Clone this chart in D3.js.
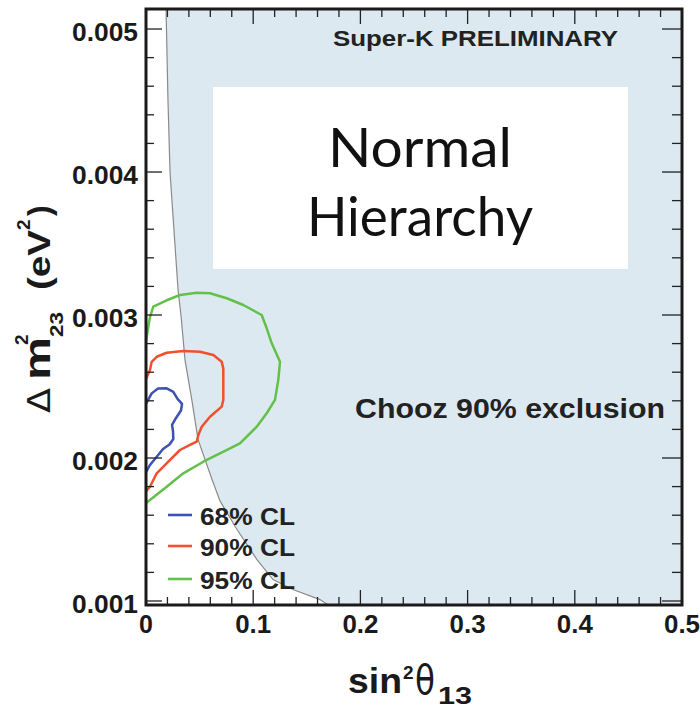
<!DOCTYPE html>
<html><head><meta charset="utf-8">
<script src="https://cdn.jsdelivr.net/npm/d3@7"></script>
<style>body{margin:0;background:#fff}</style>
</head><body>
<svg id="c" width="700" height="709"></svg>
<script>
// ---------- data ----------
const xTicks = [0, 0.1, 0.2, 0.3, 0.4, 0.5];
const xTickLabels = ["0", "0.1", "0.2", "0.3", "0.4", "0.5"];
const yTicks = [0.001, 0.002, 0.003, 0.004, 0.005];
const yTickLabels = ["0.001", "0.002", "0.003", "0.004", "0.005"];

// Chooz 90% exclusion boundary [sin^2 theta13, dm^2]
const choozBoundary = [
  [0.0187, 0.00514], [0.0205, 0.0045], [0.0224, 0.0040], [0.0299, 0.003175],
  [0.0326, 0.0030], [0.0364, 0.002685], [0.0429, 0.0024], [0.0485, 0.00213],
  [0.0616, 0.00185], [0.069, 0.0017], [0.0849, 0.0015], [0.1035, 0.00129],
  [0.1185, 0.00115], [0.137, 0.00108], [0.1623, 0.00101], [0.170, 0.000972]
];
const cl68 = [
  [0, 0.002378], [0.0053, 0.002452], [0.0112, 0.002486], [0.0193, 0.002487],
  [0.0255, 0.002462], [0.0294, 0.002413], [0.0336, 0.002378], [0.0326, 0.002332],
  [0.028, 0.00228], [0.0243, 0.002231], [0.0252, 0.002189], [0.0255, 0.002133],
  [0.0219, 0.002094], [0.0159, 0.002063], [0.01, 0.002009], [0.0037, 0.001951],
  [0, 0.001902]
];
const cl90 = [
  [0, 0.002552], [0.0037, 0.002615], [0.0053, 0.002673], [0.01, 0.002708],
  [0.0193, 0.002736], [0.0348, 0.002748], [0.0504, 0.002743], [0.0628, 0.00272],
  [0.0706, 0.002673], [0.0721, 0.002627], [0.0721, 0.002406], [0.0706, 0.002359],
  [0.0597, 0.002289], [0.052, 0.002219], [0.0488, 0.002161], [0.0473, 0.002114],
  [0.041, 0.002091], [0.0317, 0.002056], [0.0208, 0.001974], [0.01, 0.001893],
  [0.0037, 0.001799], [0, 0.001769]
];
const cl95 = [
  [0, 0.00282], [0.0037, 0.002986], [0.0068, 0.003058], [0.0193, 0.003103],
  [0.0317, 0.00314], [0.0473, 0.003156], [0.0597, 0.003152], [0.0753, 0.003117],
  [0.0908, 0.00307], [0.1079, 0.003], [0.1126, 0.002907], [0.1173, 0.002802],
  [0.125, 0.002673], [0.1234, 0.002545], [0.1203, 0.002406], [0.1126, 0.002313],
  [0.1033, 0.002219], [0.0877, 0.002103], [0.069, 0.002033], [0.0535, 0.001974],
  [0.0348, 0.001893], [0.0193, 0.001799], [0.0037, 0.001706], [0, 0.001685]
];
const legendLabels = ["68% CL", "90% CL", "95% CL"];
const seriesColors = ["#3d52b3", "#f0502e", "#63c04a"];

// ---------- layout ----------
const L = 146, R = 682, T = 9, B = 605;
const svg = d3.select("#c");
const x = d3.scaleLinear().domain([0, 0.5]).range([L, R]);
const y = d3.scaleLinear().domain([0.000972, 0.00514]).range([B, T]);
const SANS = "'Liberation Sans', Arial, Helvetica, sans-serif";

// exclusion region
svg.append("path")
  .datum(choozBoundary)
  .attr("fill", "#dde9f0")
  .attr("d", d3.area().y(d => y(d[1])).x0(d => x(d[0])).x1(x(0.5)));
svg.append("path")
  .datum(choozBoundary)
  .attr("fill", "none").attr("stroke", "#8a8a8a").attr("stroke-width", 1.2)
  .attr("d", d3.line().x(d => x(d[0])).y(d => y(d[1])));

// white text box
svg.append("rect").attr("x", 213).attr("y", 87).attr("width", 415).attr("height", 182).attr("fill", "#fff");
svg.append("text").text("Normal").attr("x", 420).attr("y", 167)
  .attr("text-anchor", "middle").attr("font-family", "Lato, 'Open Sans', sans-serif")
  .attr("font-size", 54).attr("fill", "#111").attr("textLength", 184).attr("lengthAdjust", "spacingAndGlyphs");
svg.append("text").text("Hierarchy").attr("x", 420).attr("y", 236)
  .attr("text-anchor", "middle").attr("font-family", "Lato, 'Open Sans', sans-serif")
  .attr("font-size", 54).attr("fill", "#111").attr("textLength", 226).attr("lengthAdjust", "spacingAndGlyphs");

// contours
const line = d3.line().x(d => x(d[0])).y(d => y(d[1]));
[cl68, cl90, cl95].forEach((c, i) => {
  svg.append("path").datum(c).attr("fill", "none").attr("stroke", seriesColors[i])
    .attr("stroke-width", 2.5).attr("stroke-linejoin", "round").attr("d", line);
});

// annotations
svg.append("text").text("Super-K PRELIMINARY").attr("x", 333).attr("y", 46)
  .attr("font-family", SANS).attr("font-weight", "bold").attr("font-size", 22).attr("fill", "#222")
  .attr("textLength", 285).attr("lengthAdjust", "spacingAndGlyphs");
svg.append("text").text("Chooz 90% exclusion").attr("x", 355).attr("y", 418)
  .attr("font-family", SANS).attr("font-weight", "bold").attr("font-size", 27).attr("fill", "#222")
  .attr("textLength", 310).attr("lengthAdjust", "spacingAndGlyphs");

// legend
const legY = [515, 546, 579];
legendLabels.forEach((lab, i) => {
  svg.append("line").attr("x1", 168).attr("x2", 192).attr("y1", legY[i]).attr("y2", legY[i])
    .attr("stroke", seriesColors[i]).attr("stroke-width", 2.6);
  svg.append("text").text(lab).attr("x", 200).attr("y", legY[i] + 10)
    .attr("font-family", SANS).attr("font-weight", "bold").attr("font-size", 23).attr("fill", "#222")
    .attr("textLength", 95).attr("lengthAdjust", "spacingAndGlyphs");
});

// ticks
const g = svg.append("g").attr("stroke", "#222");
const xMinor = d3.range(0, 0.5001, 0.02);
const yMinor = d3.range(0.001, 0.00515, 0.0002);
xMinor.forEach(v => {
  const major = xTicks.some(t => Math.abs(t - v) < 1e-9);
  const len = major ? 15 : 8;
  g.append("line").attr("x1", x(v)).attr("x2", x(v)).attr("y1", B).attr("y2", B - len).attr("stroke-width", 1.3);
  g.append("line").attr("x1", x(v)).attr("x2", x(v)).attr("y1", T).attr("y2", T + len).attr("stroke-width", 1.3);
});
yMinor.forEach(v => {
  const major = yTicks.some(t => Math.abs(t - v) < 1e-9);
  g.append("line").attr("x1", L).attr("x2", L + (major ? 16 : 8)).attr("y1", y(v)).attr("y2", y(v)).attr("stroke-width", 1.3);
  g.append("line").attr("x1", R).attr("x2", R - (major ? 20 : 10)).attr("y1", y(v)).attr("y2", y(v)).attr("stroke-width", 1.3);
});

// frame
svg.append("rect").attr("x", L).attr("y", T).attr("width", R - L).attr("height", B - T)
  .attr("fill", "none").attr("stroke", "#1a1a1a").attr("stroke-width", 3);

// tick labels
xTicks.forEach((v, i) => {
  const t = svg.append("text").text(xTickLabels[i]).attr("x", x(v)).attr("y", 633)
    .attr("text-anchor", "middle").attr("font-family", SANS).attr("font-weight", "bold")
    .attr("font-size", 25).attr("fill", "#1a1a1a");
  if (xTickLabels[i].length > 1) t.attr("textLength", 36).attr("lengthAdjust", "spacingAndGlyphs");
});
yTicks.forEach((v, i) => {
  svg.append("text").text(yTickLabels[i]).attr("x", 138).attr("y", y(v) + 12)
    .attr("text-anchor", "end").attr("font-family", SANS).attr("font-weight", "bold")
    .attr("font-size", 25).attr("fill", "#1a1a1a")
    .attr("textLength", 66).attr("lengthAdjust", "spacingAndGlyphs");
});

// x title: sin^2 theta_13
const xt = svg.append("g").attr("fill", "#1a1a1a").attr("font-family", SANS);
xt.append("text").text("sin").attr("x", 348).attr("y", 693).attr("font-weight", "bold").attr("font-size", 35)
  .attr("textLength", 54).attr("lengthAdjust", "spacingAndGlyphs");
xt.append("text").text("2").attr("x", 403).attr("y", 679).attr("font-weight", "bold").attr("font-size", 19);
xt.append("text").text("θ").attr("x", 415).attr("y", 694).attr("font-size", 40).attr("font-family", "'DejaVu Sans', sans-serif")
  .attr("textLength", 20).attr("lengthAdjust", "spacingAndGlyphs");
xt.append("text").text("13").attr("x", 438).attr("y", 704).attr("font-weight", "bold").attr("font-size", 24)
  .attr("textLength", 34).attr("lengthAdjust", "spacingAndGlyphs");

// y title: Delta m^2_23 (eV^2)
const yt = svg.append("g").attr("fill", "#1a1a1a").attr("font-family", SANS).attr("transform", "rotate(-90)");
yt.append("text").text("Δ").attr("x", -413).attr("y", 50).attr("font-size", 32).attr("font-family", "'DejaVu Sans', sans-serif")
  .attr("textLength", 25).attr("lengthAdjust", "spacingAndGlyphs");
yt.append("text").text("m").attr("x", -380).attr("y", 50).attr("font-weight", "bold").attr("font-size", 36)
  .attr("textLength", 43).attr("lengthAdjust", "spacingAndGlyphs");
yt.append("text").text("2").attr("x", -345).attr("y", 28).attr("font-weight", "bold").attr("font-size", 19);
yt.append("text").text("23").attr("x", -337).attr("y", 63).attr("font-weight", "bold").attr("font-size", 18)
  .attr("textLength", 25).attr("lengthAdjust", "spacingAndGlyphs");
yt.append("text").text("(eV").attr("x", -290).attr("y", 50).attr("font-weight", "bold").attr("font-size", 32)
  .attr("textLength", 60).attr("lengthAdjust", "spacingAndGlyphs");
yt.append("text").text("2").attr("x", -230).attr("y", 30).attr("font-weight", "bold").attr("font-size", 19);
yt.append("text").text(")").attr("x", -216).attr("y", 50).attr("font-weight", "bold").attr("font-size", 32);
</script>
</body></html>
